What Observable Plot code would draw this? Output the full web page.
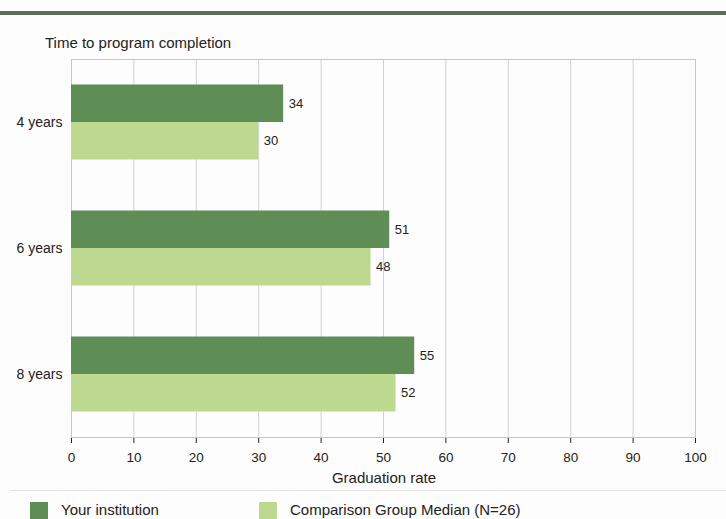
<!DOCTYPE html>
<html>
<head>
<meta charset="utf-8">
<script src="https://cdn.jsdelivr.net/npm/d3@7"></script>
<script src="https://cdn.jsdelivr.net/npm/@observablehq/plot@0.6"></script>
<style>
  html, body { margin: 0; padding: 0; background: #fdfdfd; }
  body { width: 726px; height: 519px; position: relative; overflow: hidden; font-family: "Liberation Sans", Arial, sans-serif; color: #222; }
  #topbar { position: absolute; left: 0; top: 11px; width: 726px; height: 4px; background: #5f6e5c; }
  #title { position: absolute; left: 45px; top: 34px; font-size: 15px; line-height: 17px; color: #222; }
  #chart { position: absolute; left: 0; top: 50px; }
  #chart svg text { font-size: 13.5px; }
  #chart svg g[aria-label="y-axis tick label"] text { font-size: 14px; }
  #chart svg g[aria-label="text"] text { font-size: 13px; }
  #xlabel { position: absolute; left: 0; width: 768px; text-align: center; top: 469px; font-size: 15px; line-height: 17px; }
  #sep { position: absolute; left: 10px; top: 490px; width: 716px; height: 1px; background: #e2e2e2; }
  #legend { position: absolute; left: 0; top: 501px; width: 726px; font-size: 15px; line-height: 18px; }
  .item { position: absolute; top: 0; white-space: nowrap; }
  .sw { position: absolute; top: 1px; width: 18px; height: 18px; }
</style>
</head>
<body>
<div id="topbar"></div>
<div id="title"></div>
<div id="chart"></div>
<div id="xlabel"></div>
<div id="sep"></div>
<div id="legend"></div>
<script>
const chartTitle = "Time to program completion";
const categories = ["4 years", "6 years", "8 years"];
const institution = [34, 51, 55];
const comparison = [30, 48, 52];
const xTicks = [0, 10, 20, 30, 40, 50, 60, 70, 80, 90, 100];
const xLabel = "Graduation rate";
const seriesNames = ["Your institution", "Comparison Group Median (N=26)"];
const seriesColors = ["#5e8d56", "#bdd98f"];

const data = categories.map((c, i) => ({category: c, inst: institution[i], comp: comparison[i]}));

document.getElementById("title").textContent = chartTitle;
document.getElementById("xlabel").textContent = xLabel;

const plot = Plot.plot({
  width: 726,
  height: 440,
  marginTop: 9,
  marginBottom: 53,
  marginLeft: 71,
  marginRight: 31,
  style: {fontFamily: "'Liberation Sans', Arial, sans-serif", fontSize: "13px", background: "transparent", color: "#222"},
  x: {domain: [0, 100], ticks: xTicks, tickSize: 6, tickPadding: 9, label: null},
  y: {domain: categories, padding: 0, tickSize: 0, tickPadding: 9, label: null},
  marks: [
    Plot.ruleX(xTicks, {stroke: "#d2d2d2"}),
    Plot.frame({stroke: "#c6c6c6"}),
    Plot.barX(data, {x: "inst", y: "category", fill: seriesColors[0], insetTop: 25.5, insetBottom: 63}),
    Plot.barX(data, {x: "comp", y: "category", fill: seriesColors[1], insetTop: 63, insetBottom: 25.5}),
    Plot.text(data, {x: "inst", y: "category", text: d => String(d.inst), dx: 5, dy: -18.75, textAnchor: "start", fontSize: 13, fill: "#222"}),
    Plot.text(data, {x: "comp", y: "category", text: d => String(d.comp), dx: 5, dy: 18.75, textAnchor: "start", fontSize: 13, fill: "#222"})
  ]
});
document.getElementById("chart").appendChild(plot);

const legend = document.getElementById("legend");
const legendX = [30, 259];
seriesNames.forEach((name, i) => {
  const item = document.createElement("div");
  item.className = "item";
  item.style.left = legendX[i] + "px";
  const sw = document.createElement("span");
  sw.className = "sw";
  sw.style.left = "0px";
  sw.style.background = seriesColors[i];
  const label = document.createElement("span");
  label.style.position = "absolute";
  label.style.left = "31px";
  label.style.top = "0px";
  label.textContent = name;
  item.appendChild(sw);
  item.appendChild(label);
  legend.appendChild(item);
});
</script>
</body>
</html>
